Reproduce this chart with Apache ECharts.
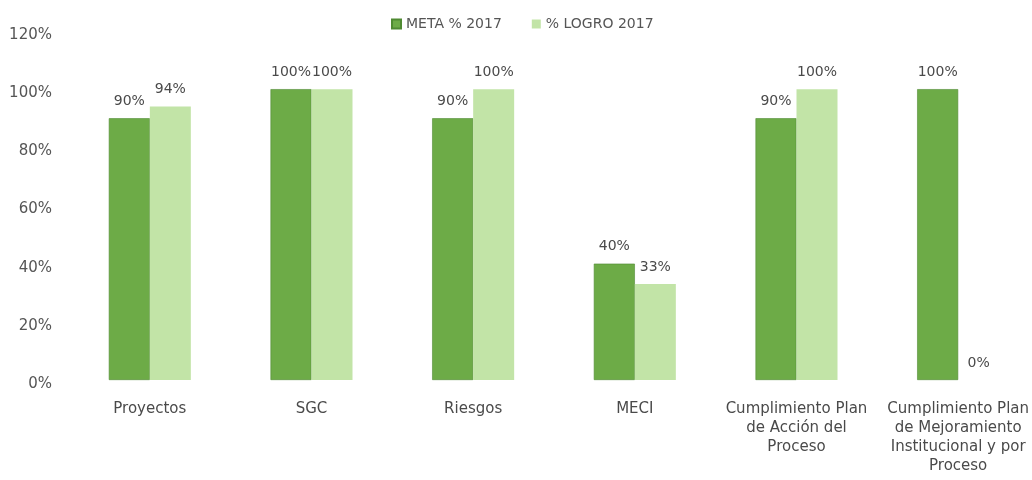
<!DOCTYPE html>
<html><head><meta charset="utf-8">
<script src="https://cdn.jsdelivr.net/npm/echarts@6/dist/echarts.min.js"></script>
<style>html,body{margin:0;padding:0;background:#fff;overflow:hidden}#c{width:1040px;height:480px}</style>
</head><body><div id="c"></div>
<script>
const categories = ["Proyectos", "SGC", "Riesgos", "MECI", "Cumplimiento Plan\nde Acción del\nProceso", "Cumplimiento Plan\nde Mejoramiento\nInstitucional y por\nProceso"];
const metaName = "META % 2017";
const logroName = "% LOGRO 2017";
const metaValues = [90, 100, 90, 40, 90, 100];
const logroValues = [94, 100, 100, 33, 100, 0];
const yTicks = [0, 20, 40, 60, 80, 100, 120];

const font = "'DejaVu Sans', sans-serif";
const chart = echarts.init(document.getElementById('c'));
const lbl = {show: true, position: 'top', formatter: p => p.value + '%', color: '#4a4a4a', fontSize: 14, fontFamily: font, distance: 10};
chart.setOption({
  animation: false,
  legend: {top: 12, left: 386, itemWidth: 9, itemHeight: 9, itemGap: 30, icon: 'rect',
    textStyle: {color: '#555555', fontSize: 14, fontFamily: font}},
  grid: {left: 69, right: 1, top: 31, bottom: 100, containLabel: false},
  xAxis: {type: 'category', data: categories, axisLine: {show: false}, axisTick: {show: false},
    axisLabel: {color: '#4a4a4a', fontSize: 15, fontFamily: font, lineHeight: 19, margin: 20, interval: 0}},
  yAxis: {type: 'value', min: yTicks[0], max: yTicks[yTicks.length-1], interval: 20, splitLine: {show: false},
    axisLine: {show: false}, axisTick: {show: false},
    axisLabel: {formatter: v => v + '%', color: '#555555', fontSize: 15, fontFamily: font, margin: 17, verticalAlign: 'top', lineHeight: 8}},
  series: [
    {name: metaName, type: 'bar', data: metaValues, barWidth: 41, barGap: '0%',
      itemStyle: {color: '#6dab47', borderColor: '#4f8a32', borderWidth: 0.6}, label: lbl},
    {name: logroName, type: 'bar', data: logroValues, barWidth: 41,
      itemStyle: {color: '#c2e4a7'}, label: lbl}
  ]
});
</script></body></html>
